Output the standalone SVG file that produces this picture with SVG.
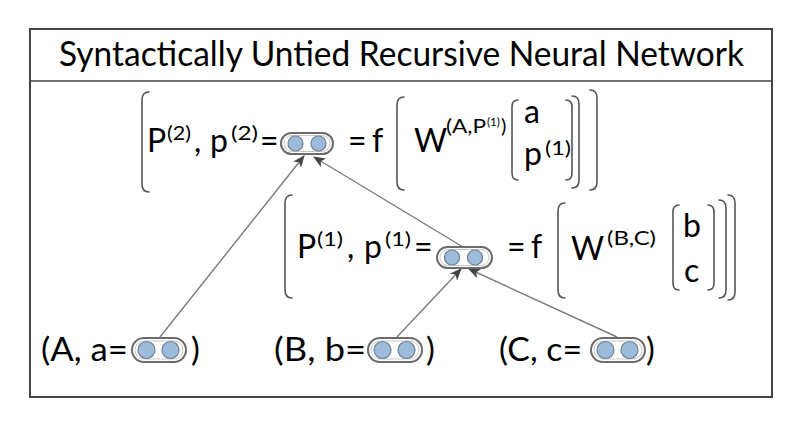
<svg xmlns="http://www.w3.org/2000/svg" width="800" height="430" viewBox="0 0 800 430">
<defs>
<style>
text{font-family:Lato,"Liberation Sans",sans-serif;fill:#000}
.t{font-size:35px}
.m{font-size:32px}
.s{font-size:20px}
.xs{font-size:11px}
.b{font-size:33px}
.br{fill:none;stroke:#555;stroke-width:1.6;stroke-linecap:round}
.pill{fill:#fff;stroke:#6b6b6b;stroke-width:2}
.pin{fill:none;stroke:#c8c8c8;stroke-width:1}
.dot{fill:#9dbbdb;stroke:#6d7f92;stroke-width:1.2}
.edge{stroke:#7a7a7a;stroke-width:1.4;fill:none;marker-end:url(#ah)}
</style>
<marker id="ah" markerWidth="12" markerHeight="10" refX="11" refY="5" orient="auto" markerUnits="userSpaceOnUse">
<path d="M0,0 L12,5 L0,10 L3,5 z" fill="#444"/>
</marker>
</defs>
<rect x="0" y="0" width="800" height="430" fill="#fff"/>
<rect x="30" y="29" width="742" height="368" fill="#fff" stroke="#444" stroke-width="2"/>
<line x1="30" y1="81" x2="772" y2="81" stroke="#444" stroke-width="1.5"/>
<text class="t" x="59" y="66" textLength="685" lengthAdjust="spacingAndGlyphs">Syntactically Untied Recursive Neural Network</text>

<g id="connectors">
<line class="edge" x1="160" y1="337" x2="304" y2="156"/>
<line class="edge" x1="463" y1="247" x2="314" y2="157"/>
<line class="edge" x1="397" y1="337" x2="461" y2="269"/>
<line class="edge" x1="617" y1="337" x2="469" y2="269"/>
</g>

<g id="node-p2">
<path class="br" d="M149,92 Q142,92 142,100 L142,184 Q142,192 149,192"/>
<text class="m" x="147" y="152">P</text>
<text class="s" x="167" y="140" textLength="24" lengthAdjust="spacingAndGlyphs">(2)</text>
<text class="m" x="194" y="152">,</text>
<text class="m" x="210" y="152">p</text>
<text class="s" x="231" y="140" textLength="27" lengthAdjust="spacingAndGlyphs">(2)</text>
<text class="m" x="260" y="152">=</text>
<rect class="pill" x="281" y="133" width="52" height="21" rx="10.5"/>
<rect class="pin" x="284" y="135.5" width="46" height="16" rx="8"/>
<circle class="dot" cx="295.5" cy="143.5" r="7.5"/>
<circle class="dot" cx="318.5" cy="143.5" r="7.5"/>
<text class="m" x="348" y="152">=</text>
<text class="m" x="372" y="152">f</text>
<path class="br" d="M404,97 Q397,97 397,105 L397,182 Q397,190 404,190"/>
<text class="m" x="414" y="152">W</text>
<text class="s" x="446" y="133" textLength="40" lengthAdjust="spacingAndGlyphs">(A,P</text>
<text class="xs" x="487" y="126" textLength="13" lengthAdjust="spacingAndGlyphs">(1)</text>
<text class="s" x="501" y="133">)</text>
<path class="br" d="M518,100 Q512,100 512,107 L512,173 Q512,180 518,180"/>
<text class="m" x="524" y="123">a</text>
<text class="m" x="524" y="165">p</text>
<text class="s" x="545" y="155" textLength="26" lengthAdjust="spacingAndGlyphs">(1)</text>
<path class="br" d="M566,100 Q572,100 572,107 L572,173 Q572,180 566,180"/>
<path class="br" d="M572,96 Q579,96 579,104 L579,180 Q579,188 572,188"/>
<path class="br" d="M590,90 Q597,90 597,98 L597,182 Q597,190 590,190"/>
</g>

<g id="node-p1">
<path class="br" d="M292,195 Q285,195 285,203 L285,290 Q285,298 292,298"/>
<text class="m" x="297" y="258">P</text>
<text class="s" x="317" y="246" textLength="26" lengthAdjust="spacingAndGlyphs">(1)</text>
<text class="m" x="347" y="258">,</text>
<text class="m" x="364" y="258">p</text>
<text class="s" x="385" y="246" textLength="26" lengthAdjust="spacingAndGlyphs">(1)</text>
<text class="m" x="414" y="258">=</text>
<rect class="pill" x="437" y="247" width="55" height="21" rx="10.5"/>
<rect class="pin" x="440" y="249.5" width="49" height="16" rx="8"/>
<circle class="dot" cx="452" cy="257.5" r="7.5"/>
<circle class="dot" cx="475" cy="257.5" r="7.5"/>
<text class="m" x="507" y="258">=</text>
<text class="m" x="531" y="258">f</text>
<path class="br" d="M565,203 Q558,203 558,211 L558,290 Q558,298 565,298"/>
<text class="m" x="571" y="260">W</text>
<text class="s" x="607" y="245" textLength="49" lengthAdjust="spacingAndGlyphs">(B,C)</text>
<path class="br" d="M679,205 Q673,205 673,212 L673,283 Q673,290 679,290"/>
<text class="m" x="683" y="237">b</text>
<text class="m" x="684" y="282">c</text>
<path class="br" d="M708,205 Q714,205 714,212 L714,283 Q714,290 708,290"/>
<path class="br" d="M719,200 Q726,200 726,208 L726,290 Q726,298 719,298"/>
<path class="br" d="M728,195 Q735,195 735,203 L735,292 Q735,300 728,300"/>
</g>

<g id="node-a">
<text class="b" x="41" y="361" textLength="87" lengthAdjust="spacingAndGlyphs">(A, a=</text>
<rect class="pill" x="132" y="338" width="54" height="24" rx="12"/>
<rect class="pin" x="135" y="341" width="48" height="18" rx="9"/>
<circle class="dot" cx="146.5" cy="350" r="8.5"/>
<circle class="dot" cx="170.5" cy="350" r="8.5"/>
<text class="b" x="191" y="361">)</text>
</g>

<g id="node-b">
<text class="b" x="274" y="361" textLength="92" lengthAdjust="spacingAndGlyphs">(B, b=</text>
<rect class="pill" x="368" y="338" width="54" height="24" rx="12"/>
<rect class="pin" x="371" y="341" width="48" height="18" rx="9"/>
<circle class="dot" cx="382.5" cy="350" r="8.5"/>
<circle class="dot" cx="406.5" cy="350" r="8.5"/>
<text class="b" x="426" y="361">)</text>
</g>

<g id="node-c">
<text class="b" x="499" y="361" textLength="83" lengthAdjust="spacingAndGlyphs">(C, c=</text>
<rect class="pill" x="591" y="338" width="54" height="24" rx="12"/>
<rect class="pin" x="594" y="341" width="48" height="18" rx="9"/>
<circle class="dot" cx="605.5" cy="350" r="8.5"/>
<circle class="dot" cx="629.5" cy="350" r="8.5"/>
<text class="b" x="646" y="361">)</text>
</g>
</svg>
